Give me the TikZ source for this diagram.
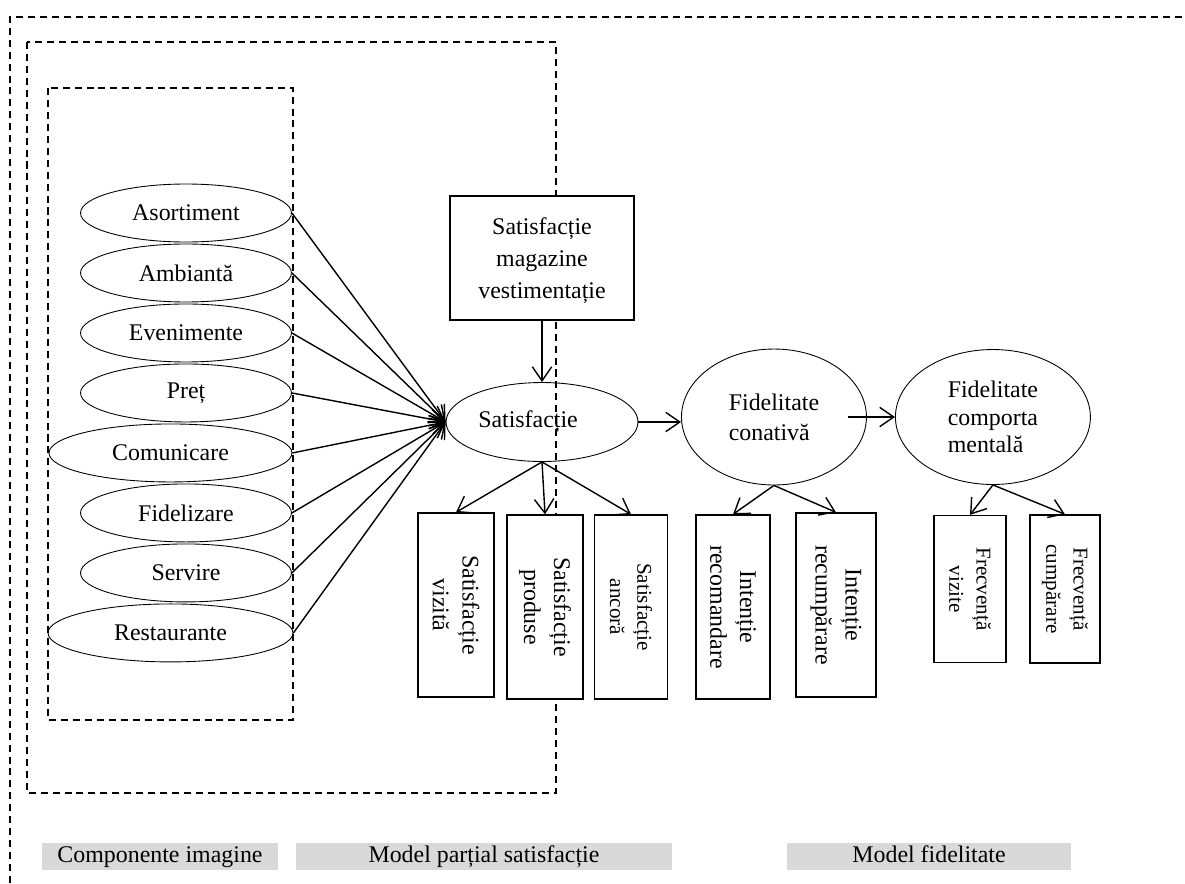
\documentclass[tikz,border=0pt]{standalone}
\usepackage{fontspec}
\setmainfont{Liberation Serif}
\usepackage{tikz}
\usetikzlibrary{shapes.geometric}
\usetikzlibrary{arrows.meta,calc}
\newcommand\smallfont{\fontsize{12}{15.5}\selectfont}
\tikzstyle{factor} = [ellipse, draw, line width=0.5pt, minimum width=4.22cm, minimum height=1.16cm, inner sep=0pt]
\tikzstyle{latent} = [ellipse, draw, line width=0.5pt, inner sep=0pt, align=left]
\tikzstyle{block} = [rectangle, draw, line width=0.8pt, fill=white, align=center,
    minimum width=3.68cm, minimum height=2.48cm]
\tikzstyle{item} = [rectangle, draw, line width=0.8pt, fill=white, rotate=-90, align=center,
    minimum width=3.68cm, minimum height=1.52cm, inner sep=0pt]
\tikzstyle{tag} = [rectangle, fill=gray!30, minimum height=0.54cm, inner sep=0pt,
    text height=9.6pt, text depth=2.6pt]
\tikzstyle{frame} = [draw, line width=0.8pt, dash pattern=on 4pt off 2.8pt]
\tikzstyle{line} = [draw, line width=0.8pt, -{Straight Barb[length=8pt,width=11pt]}]

\begin{document}
\begin{tikzpicture}[x=0.02cm,y=-0.02cm,node distance=1.2cm,every node/.style={font=\fontsize{13.6}{17}\selectfont}]
    \useasboundingbox (0,0) rectangle (1185,883);
    % Dashed frames
    \draw [frame] (10,883) |- (1185,17);
    \draw [frame] (27,42) rectangle (556,793);
    \draw [frame] (48,88) rectangle (293,720);

    % Place nodes
    \node [factor] (asort) at (186,213) {Asortiment};
    \node [factor, below of=asort] (ambi) {Ambiantă};
    \node [factor, below of=ambi] (even) {Evenimente};
    \node [factor, below of=even] (pret) {Preț};
    \node [factor, below of=pret, xshift=-0.31cm, minimum width=4.86cm] (comunic) {Comunicare};
    \node [factor, below of=comunic, xshift=0.31cm] (fideliz) {Fidelizare};
    \node [factor, below of=fideliz] (servire) {Servire};
    \node [factor, below of=servire, xshift=-0.31cm, minimum width=4.9cm] (restaur) {Restaurante};

    \node [latent, align=center, minimum width=3.84cm, minimum height=1.58cm] (sat) at (542,422) {Satisfacție\hspace*{0.56cm}};
    \node [block, above of=sat, node distance=3.28cm, text depth=0pt, font=\fontsize{13.6}{18.2}\selectfont] (mag) {Satisfacție\\magazine\\vestimentație};
    \node [latent, right of=sat, node distance=4.64cm, yshift=0.1cm, minimum width=3.7cm, minimum height=2.72cm] (fc) {Fidelitate\\conativă};
    \node [latent, right of=fc, node distance=4.38cm, minimum width=3.9cm, minimum height=2.7cm, font=\fontsize{13.6}{15.6}\selectfont] (fb) {Fidelitate\\comporta\\mentală};

    \node [item] (viz) at (456,605) {Satisfacție\\vizită};
    \node [item] (prod) at (545,607) {Satisfacție\\produse};
    \node [item, minimum height=1.46cm, font=\smallfont] (anc) at (631,607) {Satisfacție\\ancoră};
    \node [item, minimum height=1.48cm] (recom) at (733,607) {Intenție\\recomandare};
    \node [item, minimum height=1.6cm] (recump) at (836,605) {Intenție\\recumpărare};
    \node [item, minimum width=2.94cm, minimum height=1.44cm, font=\smallfont] (frviz) at (970,589) {Frecvență\\vizite};
    \node [item, minimum width=2.96cm, minimum height=1.4cm, font=\smallfont] (frcump) at (1065,589) {Frecvență\\cumpărare};

    \node [tag, minimum width=4.72cm] (compimg) at (160,856) {Componente imagine};
    \node [tag, minimum width=7.52cm] (modsat) at (484,856) {Model parțial satisfacție};
    \node [tag, minimum width=5.68cm] (modfid) at (929,856) {Model fidelitate};

    % Draw edges
    \path [line] (asort.east) -- (sat.west);
    \path [line] (ambi.east) -- (sat.west);
    \path [line] (even.east) -- (sat.west);
    \path [line] (pret.east) -- (sat.west);
    \path [line] (comunic.east) -- (sat.west);
    \path [line] (fideliz.east) -- (sat.west);
    \path [line] (servire.east) -- (sat.west);
    \path [line] (restaur.east) -- (sat.west);

    \path [line] (mag) -- (sat);
    \path [line] (sat.east) -- (sat.east -| fc.west);
    \path [line] ($(fc.east)+(-19,0)$) -- (fb.west);

    \path [line] (sat.south) -- (viz.west);
    \path [line] (sat.south) -- (prod.west);
    \path [line] (sat.south) -- (anc.west);
    \path [line] (fc.south) -- (recom.west);
    \path [line] (fc.south) -- (recump.west);
    \path [line] (fb.south) -- (frviz.west);
    \path [line] (fb.south) -- (frcump.west);
\end{tikzpicture}
\end{document}
